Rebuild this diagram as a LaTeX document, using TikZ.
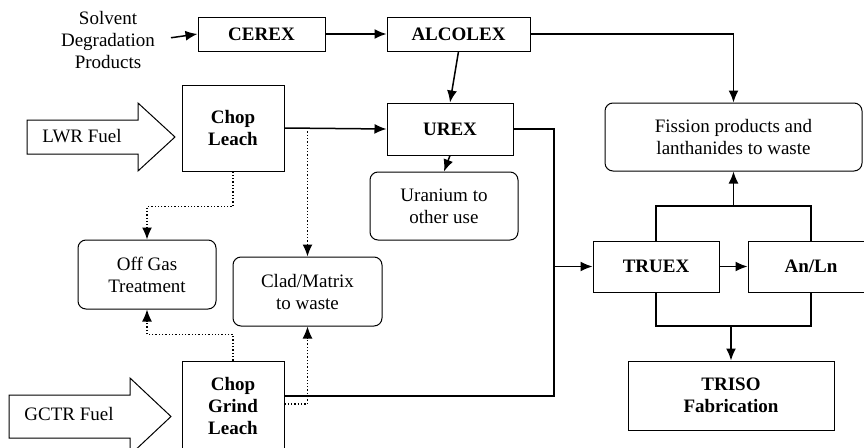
\documentclass[tikz,border=0pt]{standalone}
\usepackage{fontspec}
\setmainfont{Liberation Serif}
\usetikzlibrary{arrows.meta}

\begin{document}
\begin{tikzpicture}
[x=1pt, y=-1pt,
 every node/.style={inner sep=0pt, align=center, font=\fontsize{19}{22}\selectfont},
 procbox/.style={rectangle, draw=black, line width=1pt, font=\fontsize{19}{22}\selectfont\bfseries},
 wastebox/.style={rectangle, rounded corners=8pt, draw=black, line width=1pt},
 flow/.style={line width=1.5pt, -{Latex[length=12pt, width=10pt]}},
 plainflow/.style={line width=1.5pt},
 dotflow/.style={line width=1.3pt, dotted, -{Latex[length=12pt, width=10pt]}},
 blockarrow/.style={line width=1pt, draw=black, fill=white}]
\useasboundingbox (0,0) rectangle (864,447);
\node (solvent) at (108, 40) {Solvent\\Degradation\\Products};
\node (cerex) [procbox, minimum width=127pt, minimum height=34pt] at (261.5, 34) {CEREX};
\node (alcolex) [procbox, minimum width=143pt, minimum height=34pt] at (458.5, 34) {ALCOLEX};
\node (chopleach) [procbox, minimum width=102pt, minimum height=86pt] at (233, 128) {Chop\\Leach};
\node (urex) [procbox, minimum width=126pt, minimum height=52pt] at (450, 129) {UREX};
\node (uranium) [wastebox, minimum width=148pt, minimum height=68pt] at (444, 206) {Uranium to\\other use};
\node (fission) [wastebox, minimum width=257pt, minimum height=68pt] at (733.5, 137) {Fission products and\\lanthanides to waste};
\node (offgas) [wastebox, minimum width=138pt, minimum height=69pt] at (147, 274.5) {Off Gas\\Treatment};
\node (clad) [wastebox, minimum width=149pt, minimum height=69pt] at (307.5, 291.5) {Clad/Matrix\\to waste};
\node (truex) [procbox, minimum width=126pt, minimum height=51pt] at (656, 266.5) {TRUEX};
\node (anln) [procbox, minimum width=126pt, minimum height=51pt] at (811, 266.5) {An/Ln};
\node (triso) [procbox, minimum width=206pt, minimum height=69pt] at (731, 395.5) {TRISO\\Fabrication};
\node (cgl) [procbox, minimum width=102pt, minimum height=90pt] at (233, 406) {Chop\\Grind\\Leach};
% fuel feeds
\draw [blockarrow] (27,120) -- (138,120) -- (138,103) -- (175,137) -- (138,171) -- (138,154) -- (27,154) -- cycle;
\node (lwr) at (82, 136) {LWR Fuel};
\draw [blockarrow] (9,395) -- (130,395) -- (130,378) -- (171,416.5) -- (130,455) -- (130,438) -- (9,438) -- cycle;
\node (gctr) at (69, 414) {GCTR Fuel};
\coordinate (join) at (554, 266.5);
\coordinate (tophub) at (733.5, 206);
\coordinate (bothub) at (731, 326);
\draw [flow] (solvent.east) [shorten <=16pt] -- (cerex.west);
\draw [flow] (cerex) -- (alcolex);
\draw [flow] (alcolex.east) -| (fission.north);
\draw [flow] (alcolex.south) -- (urex.north);
\draw [flow] (chopleach.east) -- (urex.west);
\draw [flow] (urex.south) -- (uranium.north);
\draw [plainflow] (urex.east) -| (join);
\draw [plainflow] ([yshift=10pt]cgl.east) -| (join);
\draw [flow] (join) -- (truex.west);
\draw [flow] (truex) -- (anln);
\draw [plainflow] (truex.north) |- (tophub) -| (anln.north);
\draw [flow] (tophub) -- (fission.south);
\draw [plainflow] (truex.south) |- (bothub) -| (anln.south);
\draw [flow] (bothub) -- (triso.north);
% dotted side streams
\draw [dotflow] (clad.north |- chopleach.east) -- (clad.north);
\draw [dotflow] (chopleach.south) -- ++(0,35) -| (offgas.north);
\draw [dotflow] (cgl.north) -- ++(0,-26) -| (offgas.south);
\draw [dotflow] ([yshift=2pt]cgl.east) -| (clad.south);
\end{tikzpicture}
\end{document}
